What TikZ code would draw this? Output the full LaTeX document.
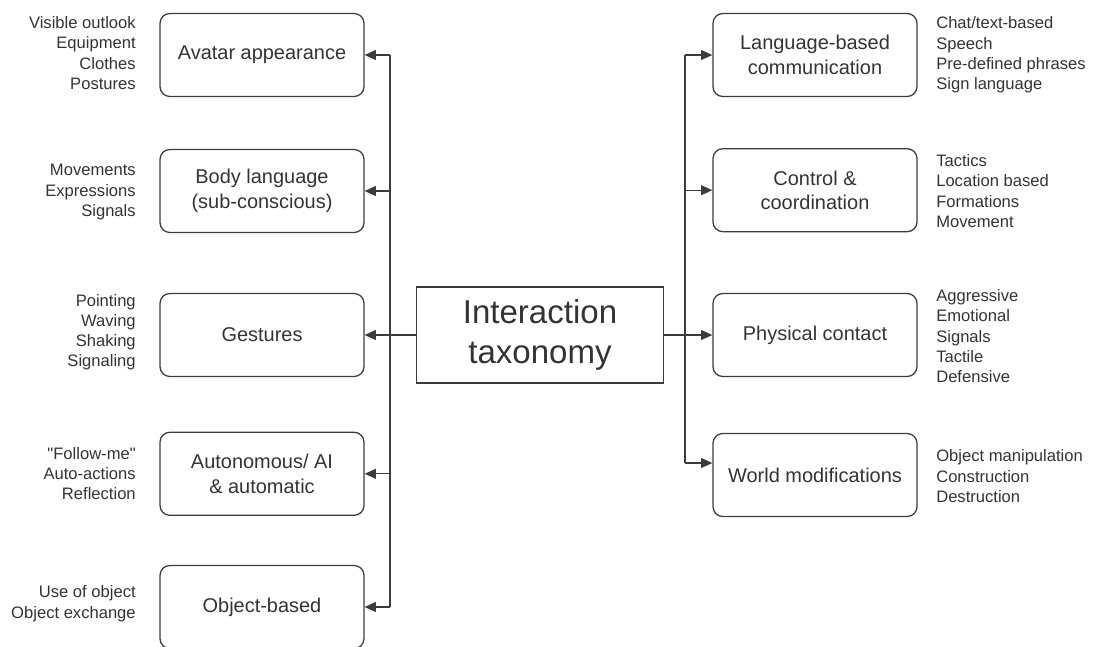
\documentclass[tikz,border=0pt]{standalone}
\usepackage{fontspec}
\setmainfont{Liberation Sans}
\usetikzlibrary{arrows.meta}
\definecolor{boxline}{HTML}{3C3C3C}
\definecolor{ink}{HTML}{333333}
\tikzset{
  cat/.style={draw=boxline, line width=0.9pt, rounded corners=7pt, minimum width=5.1cm,
    minimum height=2.075cm, align=center, text=ink, font=\fontsize{14.2}{17.5}\selectfont},
  root/.style={draw=boxline, line width=0.9pt, minimum width=6.18cm, minimum height=2.4cm,
    align=center, text=ink, font=\fontsize{23.5}{28.5}\selectfont},
  llist/.style={anchor=east, align=right, inner sep=0pt, text=ink, font=\fontsize{11.8}{14.4}\selectfont},
  rlist/.style={anchor=west, align=left, inner sep=0pt, text=ink, font=\fontsize{11.8}{14.4}\selectfont},
  wire/.style={draw=boxline, line width=0.9pt},
  link/.style={wire, -{Triangle[length=8pt,width=7pt]}}
}

\begin{document}
\begin{tikzpicture}
  \useasboundingbox (-13.5,8.375) rectangle (13.875,-7.8);

  % root in the middle
  \node[root] (tax) at (0,0) {Interaction\\taxonomy};

  % left column
  \node[cat] (avatar)   at (-6.95, 7.0)  {Avatar appearance};
  \node[cat] (body)     at (-6.95, 3.6)  {Body language\\(sub-conscious)};
  \node[cat] (gest)     at (-6.95, 0)    {Gestures};
  \node[cat] (auto)     at (-6.95,-3.47) {Autonomous/ AI\\\& automatic};
  \node[cat] (objbased) at (-6.95,-6.8)  {Object-based};

  % right column
  \node[cat] (lang)  at (6.875, 7.0)  {Language-based\\communication};
  \node[cat] (ctrl)  at (6.875, 3.62) {Control \&\\coordination};
  \node[cat] (phys)  at (6.875, 0)    {Physical contact};
  \node[cat] (world) at (6.875,-3.5)  {World modifications};

  % examples beside each box
  \node[llist] (avatarL) at (-10.1, 7.05)  {Visible outlook\\Equipment\\Clothes\\Postures};
  \node[llist] (bodyL)   at (-10.1, 3.57)  {Movements\\Expressions\\Signals};
  \node[llist] (gestL)   at (-10.1, 0.07)  {Pointing\\Waving\\Shaking\\Signaling};
  \node[llist] (autoL)   at (-10.1,-3.47)  {\textquotedbl Follow-me\textquotedbl\\Auto-actions\\Reflection};
  \node[llist] (objL)    at (-10.1,-6.72)  {Use of object\\Object exchange};

  \node[rlist] (langL)  at (9.9, 7.0)   {Chat/text-based\\Speech\\Pre-defined phrases\\Sign language};
  \node[rlist] (ctrlL)  at (9.9, 3.6)   {Tactics\\Location based\\Formations\\Movement};
  \node[rlist] (physL)  at (9.9,-0.03)  {Aggressive\\Emotional\\Signals\\Tactile\\Defensive};
  \node[rlist] (worldL) at (9.9,-3.53)  {Object manipulation\\Construction\\Destruction};

  % buses
  \coordinate (lbus) at (-3.75,0);
  \coordinate (rbus) at (3.625,0);
  \coordinate (wtip) at ([yshift=0.3cm]world.west);

  \draw[link] (tax.west) -- (gest.east);
  \draw[link] (tax.east) -- (phys.west);

  \draw[wire] (lbus |- avatar.east) -- (lbus |- objbased.east);
  \foreach \b in {avatar,body,auto,objbased}
    \draw[link] (lbus |- \b.east) -- (\b.east);

  \draw[wire] (rbus |- lang.west) -- (rbus |- wtip);
  \foreach \b in {lang,ctrl}
    \draw[link] (rbus |- \b.west) -- (\b.west);
  \draw[link] (rbus |- wtip) -- (wtip);
\end{tikzpicture}
\end{document}
